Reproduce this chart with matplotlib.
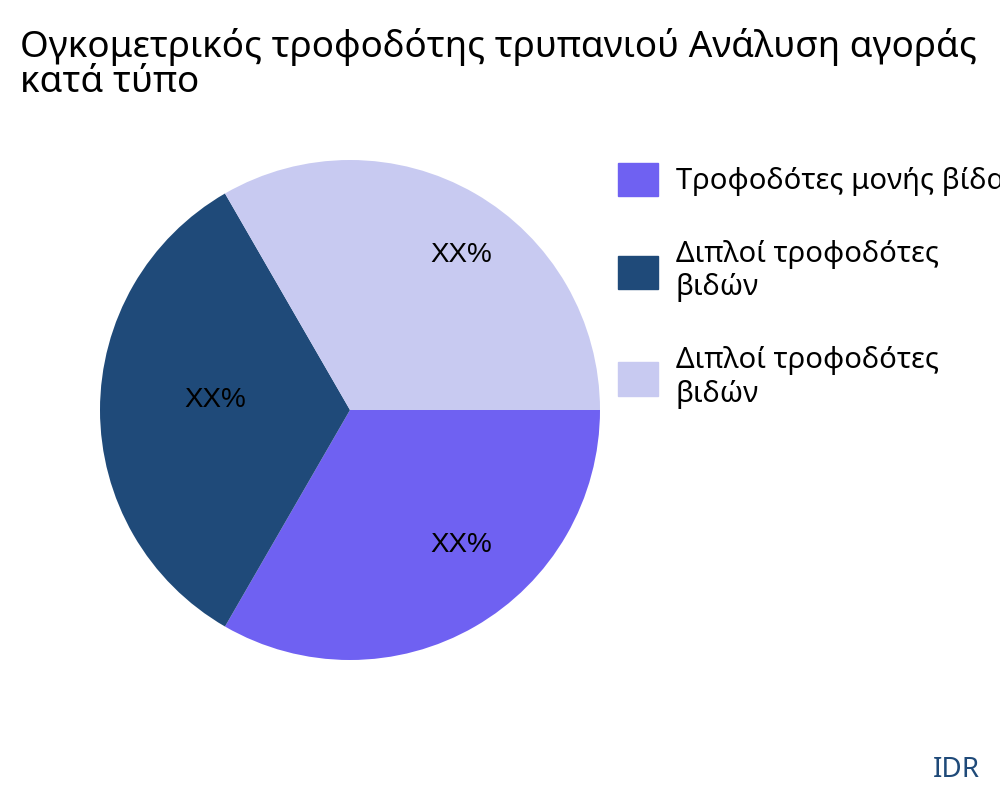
import matplotlib
matplotlib.use("Agg")
import matplotlib.pyplot as plt
from matplotlib.patches import Patch
import numpy as np

plt.rcParams["font.family"] = ["Noto Sans", "DejaVu Sans"]

title = "Ογκομετρικός τροφοδότης τρυπανιού Ανάλυση αγοράς\nκατά τύπο"
categories = ["Τροφοδότες μονής βίδας", "Διπλοί τροφοδότες\nβιδών", "Διπλοί τροφοδότες\nβιδών"]
values = [1, 1, 1]
labels = ["XX%", "XX%", "XX%"]
colors = ["#6f61f2", "#1f4a79", "#c8caf1"]

fig = plt.figure(figsize=(10, 8), dpi=100)
ax = fig.add_axes([0.1, 0.175, 0.5, 0.625])
wedges, _ = ax.pie(values, colors=colors, startangle=0, counterclock=False)
for w, lab in zip(wedges, labels):
    ang = np.deg2rad((w.theta1 + w.theta2) / 2)
    c, s = np.cos(ang), np.sin(ang)
    ax.text(0.54 * c + 0.2 * abs(s), 0.67 * s + 0.04, lab, ha="center", va="center",
            fontsize=20, family=["Liberation Sans", "DejaVu Sans"])
ax.set_xlim(-1, 1)
ax.set_ylim(-1, 1)
ax.set_aspect("equal")

fig.text(0.02, 0.965, title, fontsize=26.5, va="top", ha="left", linespacing=0.95)

handles = [Patch(color=c) for c in colors]
fig.legend(handles, categories, loc="upper left", bbox_to_anchor=(0.603, 0.815),
           frameon=False, fontsize=21, handlelength=1.4, handleheight=1.4,
           labelspacing=1.5, handletextpad=0.6, borderpad=0)

fig.text(0.98, 0.02, "IDR", fontsize=20, color="#1f4a79", ha="right", va="bottom")

fig.savefig("out.png", dpi=100)
